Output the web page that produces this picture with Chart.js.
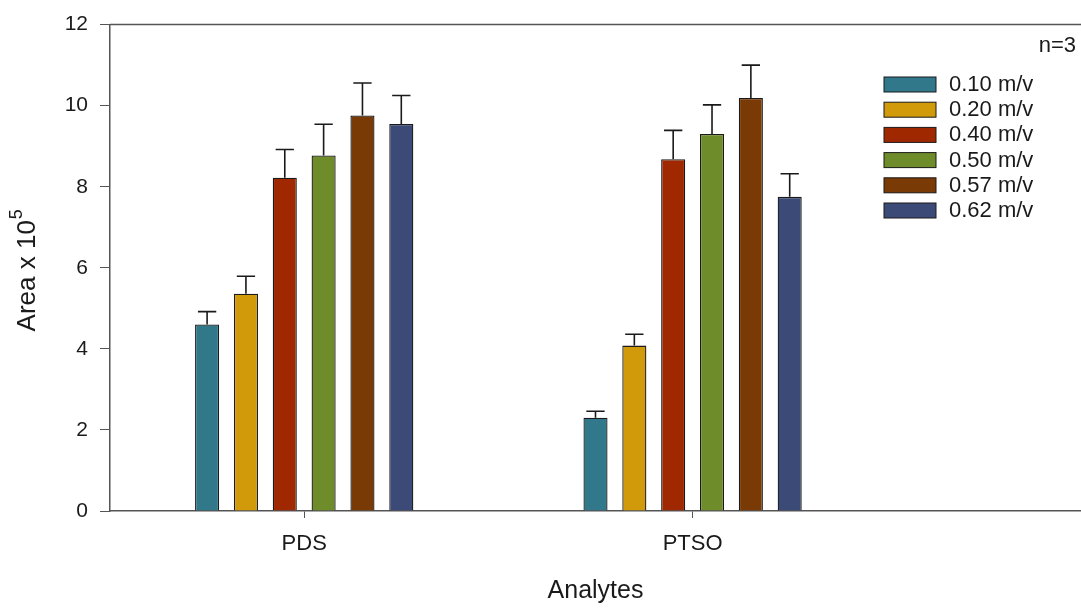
<!DOCTYPE html>
<html>
<head>
<meta charset="utf-8">
<script src="https://cdn.jsdelivr.net/npm/chart.js@4"></script>
<style>
  html, body { margin: 0; padding: 0; background: #fff; }
  #wrap { width: 1081px; height: 610px; }
</style>
</head>
<body>
<div id="wrap"><canvas id="chart" width="1081" height="610"></canvas></div>
<script>
// DATOS
const categories = ["PDS", "PTSO"];
const seriesNames = ["0.10 m/v", "0.20 m/v", "0.40 m/v", "0.50 m/v", "0.57 m/v", "0.62 m/v"];
const colors = ["#31788a", "#d09a0a", "#a02800", "#6e8c2a", "#7a3a05", "#3c4a78"];

const v010 = [4.60, 2.30];
const v020 = [5.36, 4.08];
const v040 = [8.22, 8.68];
const v050 = [8.77, 9.30];
const v057 = [9.76, 10.19];
const v062 = [9.55, 7.75];

const e010 = [0.32, 0.16];
const e020 = [0.43, 0.28];
const e040 = [0.70, 0.71];
const e050 = [0.77, 0.72];
const e057 = [0.80, 0.81];
const e062 = [0.70, 0.57];

const yTicks = [0, 2, 4, 6, 8, 10, 12];

const values = [v010, v020, v040, v050, v057, v062];
const errors = [e010, e020, e040, e050, e057, e062];

// the x axis runs past the groups: pad the label list with empty slots
const labels = ["", categories[0], "", categories[1], "", ""];
const spread = arr => [null, arr[0], null, arr[1], null, null];

const FONT = "'Liberation Sans', Arial, sans-serif";
const INK = "#1a1a1a";
const AXIS = "#555";

// BARRAS DE ERROR (solo hacia arriba)
const errorBars = {
  id: "errorBars",
  afterDatasetsDraw(chart) {
    const ctx = chart.ctx;
    const y = chart.scales.y;
    ctx.save();
    ctx.strokeStyle = INK;
    ctx.lineWidth = 1.6;
    chart.data.datasets.forEach((ds, i) => {
      const meta = chart.getDatasetMeta(i);
      meta.data.forEach((bar, j) => {
        const v = ds.data[j];
        if (v == null) return;
        const top = y.getPixelForValue(v + ds.errors[j]);
        const half = bar.width * 0.38;
        ctx.beginPath();
        ctx.moveTo(bar.x, bar.y);
        ctx.lineTo(bar.x, top);
        ctx.moveTo(bar.x - half, top);
        ctx.lineTo(bar.x + half, top);
        ctx.stroke();
      });
    });
    ctx.restore();
  }
};

// MARCO SUPERIOR, TITULO Y, LEYENDA
const decorations = {
  id: "decorations",
  afterDraw(chart) {
    const ctx = chart.ctx;
    const area = chart.chartArea;
    ctx.save();
    ctx.strokeStyle = AXIS;
    ctx.lineWidth = 1.5;
    ctx.beginPath();
    ctx.moveTo(area.left, area.top);
    ctx.lineTo(area.right, area.top);
    ctx.stroke();

    // y title with a real superscript
    ctx.save();
    ctx.translate(28, (area.top + area.bottom) / 2 + 3);
    ctx.rotate(-Math.PI / 2);
    ctx.fillStyle = INK;
    ctx.textBaseline = "middle";
    ctx.textAlign = "left";
    const base = "Area x 10";
    ctx.font = "26px " + FONT;
    const wBase = ctx.measureText(base).width;
    ctx.font = "18px " + FONT;
    const wSup = ctx.measureText("5").width;
    const x0 = -(wBase + wSup) / 2;
    ctx.font = "26px " + FONT;
    ctx.fillText(base, x0, 0);
    ctx.font = "18px " + FONT;
    ctx.fillText("5", x0 + wBase + 1, -11);
    ctx.restore();

    ctx.fillStyle = INK;
    ctx.font = "22px " + FONT;
    ctx.textAlign = "right";
    ctx.textBaseline = "middle";
    ctx.fillText("n=3", 1076, 46);

    ctx.textAlign = "left";
    ctx.font = "22px " + FONT;
    chart.data.datasets.forEach((ds, i) => {
      const top = 77 + i * 25.2;
      ctx.fillStyle = ds.backgroundColor;
      ctx.fillRect(884, top, 52, 15);
      ctx.strokeStyle = INK;
      ctx.lineWidth = 1;
      ctx.strokeRect(884, top, 52, 15);
      ctx.fillStyle = INK;
      ctx.fillText(ds.label, 949, top + 8);
    });
    ctx.restore();
  }
};

const chart = new Chart(document.getElementById("chart").getContext("2d"), {
  type: "bar",
  data: {
    labels: labels,
    datasets: seriesNames.map((name, i) => ({
      label: name,
      data: spread(values[i]),
      errors: spread(errors[i]),
      backgroundColor: colors[i],
      borderColor: INK,
      borderWidth: 1.3,
      categoryPercentage: 1.2,
      barPercentage: 0.62
    }))
  },
  options: {
    responsive: false,
    animation: false,
    layout: { padding: { top: 23, right: 0, left: 0, bottom: 0 } },
    plugins: {
      legend: { display: false },
      tooltip: { enabled: false }
    },
    scales: {
      x: {
        offset: false,
        afterFit: s => { s.height = 99; s.paddingLeft = 0; s.paddingRight = 0; },
        border: { color: AXIS, width: 1.5 },
        grid: {
          offset: false,
          drawOnChartArea: false,
          tickLength: 7,
          color: c => (labels[c.index] ? AXIS : "rgba(0,0,0,0)")
        },
        ticks: {
          autoSkip: false,
          maxRotation: 0,
          padding: 13,
          color: INK,
          font: { family: FONT, size: 22 }
        },
        title: {
          display: true,
          text: "Analytes",
          color: INK,
          font: { family: FONT, size: 25 },
          padding: { top: 0, bottom: 4 }
        }
      },
      y: {
        min: 0,
        max: 12,
        afterFit: s => { s.width = 110; },
        afterBuildTicks: s => { s.ticks = yTicks.map(v => ({ value: v })); },
        border: { color: AXIS, width: 1.5 },
        grid: { drawOnChartArea: false, tickLength: 10, color: AXIS },
        ticks: {
          padding: 12,
          color: INK,
          font: { family: FONT, size: 21 }
        }
      }
    }
  },
  plugins: [errorBars, decorations]
});
</script>
</body>
</html>
